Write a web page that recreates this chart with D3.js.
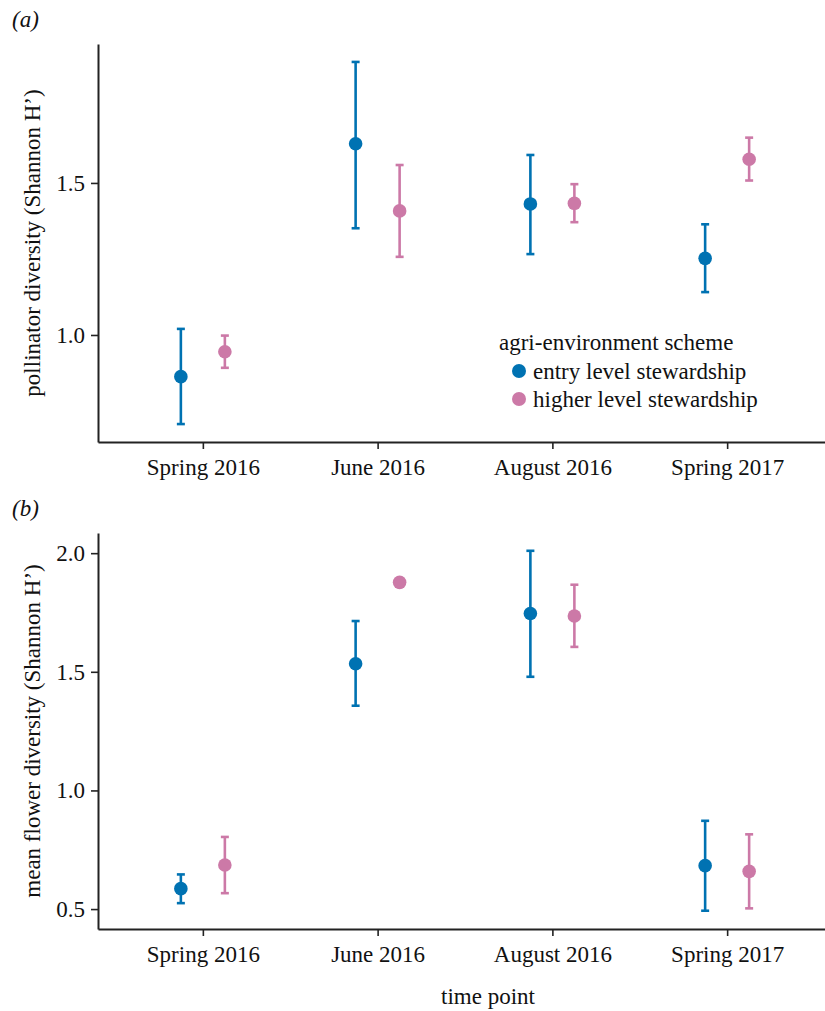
<!DOCTYPE html>
<html>
<head>
<meta charset="utf-8">
<script src="https://cdn.jsdelivr.net/npm/d3@7"></script>
<style>
  body { margin: 0; background: #fff; }
  svg text { font-family: "Liberation Serif", "DejaVu Serif", serif; fill: #111; }
  .axis path, .axis line { stroke: #222; }
</style>
</head>
<body>
<svg id="chart" width="825" height="1011"></svg>
<script>
// time points and schemes
const timePoints = ["Spring 2016", "June 2016", "August 2016", "Spring 2017"];
const schemes = ["entry level stewardship", "higher level stewardship"];
const schemeColors = ["#0072B2", "#CC79A7"];

// (a) pollinator diversity: mean, lower, upper for each scheme
const pollELSMean = [0.863, 1.629, 1.431, 1.252];
const pollELSLow  = [0.707, 1.351, 1.266, 1.141];
const pollELSHigh = [1.020, 1.898, 1.592, 1.364];
const pollHLSMean = [0.945, 1.408, 1.433, 1.578];
const pollHLSLow  = [0.892, 1.257, 1.371, 1.508];
const pollHLSHigh = [0.998, 1.559, 1.496, 1.649];

// (b) mean flower diversity
const flowELSMean = [0.586, 1.534, 1.746, 0.683];
const flowELSLow  = [0.525, 1.357, 1.479, 0.493];
const flowELSHigh = [0.646, 1.714, 2.010, 0.872];
const flowHLSMean = [0.686, 1.877, 1.735, 0.659];
const flowHLSLow  = [0.567, 1.859, 1.605, 0.503];
const flowHLSHigh = [0.804, 1.892, 1.867, 0.815];

const pollTicks = [1.0, 1.5];
const flowTicks = [0.5, 1.0, 1.5, 2.0];

const svg = d3.select("#chart");

// build rows for one panel
function rows(means, lows, highs, scheme) {
  return timePoints.map((t, i) => ({time: t, scheme: scheme, mean: means[i], lo: lows[i], hi: highs[i]}));
}

const x = d3.scalePoint().domain(timePoints).range([98, 832]).padding(0.6);
const dodge = d3.scalePoint().domain(schemes).range([-22, 22]);
const color = d3.scaleOrdinal().domain(schemes).range(schemeColors);

function drawPanel(opts) {
  const g = svg.append("g");
  const y = d3.scaleLinear().domain(opts.domain).range([opts.bottom, opts.top]);

  // y axis
  const yAxis = g.append("g").attr("class", "axis").attr("transform", "translate(98,0)")
    .call(d3.axisLeft(y).tickValues(opts.ticks).tickFormat(d3.format(".1f")).tickSizeInner(7).tickSizeOuter(0).tickPadding(6));
  yAxis.select(".domain").attr("stroke-width", 2);
  yAxis.selectAll("line").attr("stroke-width", 1.6);
  yAxis.selectAll("text").style("font-size", "23px");

  // x axis
  const xAxis = g.append("g").attr("class", "axis").attr("transform", `translate(0,${opts.bottom})`)
    .call(d3.axisBottom(x).tickSizeInner(7).tickSizeOuter(0).tickPadding(10));
  xAxis.select(".domain").attr("stroke-width", 2);
  xAxis.selectAll("line").attr("stroke-width", 1.6);
  xAxis.selectAll("text").style("font-size", "23px");

  // y axis title
  g.append("text")
    .attr("transform", `translate(40,${(opts.top + opts.bottom) / 2}) rotate(-90)`)
    .attr("text-anchor", "middle")
    .style("font-size", "23px")
    .text(opts.ylabel);

  // panel letter
  g.append("text").attr("x", 12).attr("y", opts.top - 17)
    .style("font-size", "23px").style("font-style", "italic")
    .text(opts.letter);

  const data = opts.data;
  const cx = d => x(d.time) + dodge(d.scheme);

  const bars = g.append("g").selectAll("g").data(data).enter().append("g")
    .attr("stroke", d => color(d.scheme)).attr("stroke-width", 2.6);
  bars.append("line").attr("x1", cx).attr("x2", cx).attr("y1", d => y(d.lo)).attr("y2", d => y(d.hi));
  bars.append("line").attr("x1", d => cx(d) - 4).attr("x2", d => cx(d) + 4).attr("y1", d => y(d.lo)).attr("y2", d => y(d.lo));
  bars.append("line").attr("x1", d => cx(d) - 4).attr("x2", d => cx(d) + 4).attr("y1", d => y(d.hi)).attr("y2", d => y(d.hi));

  g.append("g").selectAll("circle").data(data).enter().append("circle")
    .attr("cx", cx).attr("cy", d => y(d.mean)).attr("r", 6.8)
    .attr("fill", d => color(d.scheme));
  return g;
}

const panelA = drawPanel({
  letter: "(a)", top: 44, bottom: 442, domain: [0.648, 1.957], ticks: pollTicks,
  ylabel: "pollinator diversity (Shannon H’)",
  data: rows(pollELSMean, pollELSLow, pollELSHigh, schemes[0]).concat(rows(pollHLSMean, pollHLSLow, pollHLSHigh, schemes[1]))
});

drawPanel({
  letter: "(b)", top: 533, bottom: 929, domain: [0.416, 2.085], ticks: flowTicks,
  ylabel: "mean flower diversity (Shannon H’)",
  data: rows(flowELSMean, flowELSLow, flowELSHigh, schemes[0]).concat(rows(flowHLSMean, flowHLSLow, flowHLSHigh, schemes[1]))
});

// legend in panel (a)
const legend = panelA.append("g").attr("transform", "translate(499,350)");
legend.append("text").style("font-size", "23px").text("agri-environment scheme");
const items = legend.selectAll(".item").data(schemes).enter().append("g")
  .attr("transform", (d, i) => `translate(0,${21 + i * 28})`);
items.append("circle").attr("cx", 20).attr("cy", 0).attr("r", 7).attr("fill", d => color(d));
items.append("text").attr("x", 34).attr("y", 7.5).style("font-size", "23px").text(d => d);

// x axis title
svg.append("text").attr("x", 488).attr("y", 1004).attr("text-anchor", "middle")
  .style("font-size", "23px").text("time point");
</script>
</body>
</html>
